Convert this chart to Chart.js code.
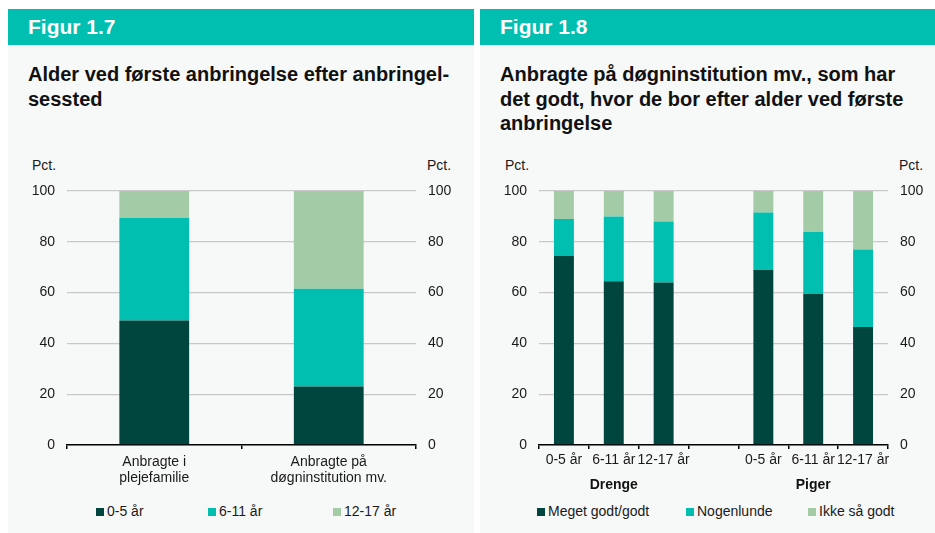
<!DOCTYPE html>
<html>
<head>
<meta charset="utf-8">
<script src="https://cdn.jsdelivr.net/npm/chart.js@4.4.0/dist/chart.umd.min.js"></script>
<style>
  body { margin: 0; background: #fff; width: 935px; height: 533px; position: relative; overflow: hidden;
         font-family: 'Liberation Sans', Arial, sans-serif; color: #1a1a1a; }
  .panel { position: absolute; top: 9px; bottom: 0; background: #f7f8f8; }
  .head { height: 36px; background: #00bfb1; color: #fff; font-weight: bold; font-size: 21px;
          line-height: 36px; padding-left: 20px; }
  .title { position: absolute; left: 20px; top: 53px; font-weight: bold; font-size: 20px;
           line-height: 24.5px; white-space: nowrap; color: #111; }
  .pct { position: absolute; font-size: 14px; line-height: 14px; top: 149px; }
  canvas { position: absolute; top: 141px; }
  .legend { position: absolute; top: 0; left: 0; }
  .item { position: absolute; top: 494px; font-size: 14px; line-height: 16px; white-space: nowrap; }
  .item i { display: inline-block; width: 8px; height: 8px; margin-right: 3px; vertical-align: 0px; }
</style>
</head>
<body>
<div class="panel" id="p1" style="left:8px; width:466px;">
  <div class="head">Figur 1.7</div>
  <div class="title">Alder ved første anbringelse efter anbringel-<br>sessted</div>
  <div class="pct" style="left:24px;">Pct.</div>
  <div class="pct" style="left:419px;">Pct.</div>
  <canvas id="chart1" width="466" height="345" style="left:0;"></canvas>
  <div class="legend" id="legend1"></div>
</div>
<div class="panel" id="p2" style="left:480px; width:455px;">
  <div class="head">Figur 1.8</div>
  <div class="title">Anbragte på døgninstitution mv., som har<br>det godt, hvor de bor efter alder ved første<br>anbringelse</div>
  <div class="pct" style="left:25px;">Pct.</div>
  <div class="pct" style="left:419px;">Pct.</div>
  <canvas id="chart2" width="455" height="345" style="left:0;"></canvas>
  <div class="legend" id="legend2"></div>
</div>

<script>
// Figur 1.7 data
const placeLabels = [['Anbragte i', 'plejefamilie'], ['Anbragte på', 'døgninstitution mv.']];
const ageNames = ['0-5 år', '6-11 år', '12-17 år'];
const age0to5 = [49, 23];
const age6to11 = [40.5, 38.5];
const age12to17 = [10.5, 38.5];

// Figur 1.8 data
const ageLabels = ['0-5 år', '6-11 år', '12-17 år', '', '0-5 år', '6-11 år', '12-17 år'];
const groupNames = ['Drenge', 'Piger'];
const groupIndexes = [[0, 1, 2], [4, 5, 6]];
const wellNames = ['Meget godt/godt', 'Nogenlunde', 'Ikke så godt'];
const meGodt = [74.5, 64.5, 64, null, 69, 59.5, 46.5];
const nogenlunde = [14.5, 25.5, 24, null, 22.5, 24.5, 30.5];
const ikkeGodt = [11, 10, 12, null, 8.5, 16, 23];

const yTicks = [0, 20, 40, 60, 80, 100];

const colors = ['#00463f', '#00bfb1', '#a3cca6'];
const FONT = "'Liberation Sans', Arial, sans-serif";

Chart.defaults.font.family = FONT;
Chart.defaults.font.size = 14;
Chart.defaults.color = '#1a1a1a';

function makeScales(leftW, rightW, xH, labelPad) {
    return {
        x: {
            stacked: true,
            offset: true,
            grid: { display: true, drawOnChartArea: false, drawTicks: true, tickLength: 4, color: '#000', lineWidth: 1.5, offset: true },
            border: { display: true, color: '#000', width: 1.5 },
            ticks: { padding: labelPad, maxRotation: 0, autoSkip: false, font: { size: 14, lineHeight: 16 / 14 } },
            afterFit: s => { s.height = xH; }
        },
        y: {
            stacked: true,
            min: 0, max: 100,
            afterBuildTicks: s => { s.ticks = yTicks.map(v => ({ value: v })); },
            grid: { color: '#c8c8c8', lineWidth: 1.3, drawTicks: false },
            border: { display: false },
            ticks: { padding: 12 },
            afterFit: s => { s.width = leftW; }
        },
        y2: {
            position: 'right',
            min: 0, max: 100,
            afterBuildTicks: s => { s.ticks = yTicks.map(v => ({ value: v })); },
            grid: { display: false, drawTicks: false },
            border: { display: false },
            ticks: { padding: 12 },
            afterFit: s => { s.width = rightW; }
        }
    };
}

function barSet(label, data, color) {
    return {
        label: label,
        data: data,
        backgroundColor: color,
        borderWidth: 0,
        barPercentage: 0.4,
        categoryPercentage: 1,
        yAxisID: 'y'
    };
}

const baseOpts = {
    responsive: false,
    animation: false,
    layout: { padding: { top: 41, left: 0, right: 0, bottom: 0 } },
    plugins: { legend: { display: false }, tooltip: { enabled: false } }
};

// Figur 1.7
new Chart(document.getElementById('chart1'), {
    type: 'bar',
    data: {
        labels: placeLabels,
        datasets: [
            barSet(ageNames[0], age0to5, colors[0]),
            barSet(ageNames[1], age6to11, colors[1]),
            barSet(ageNames[2], age12to17, colors[2])
        ]
    },
    options: Object.assign({}, baseOpts, { scales: makeScales(59, 58, 50, 5) })
});

// group labels under the age ticks
const groupLabelPlugin = {
    id: 'groupLabels',
    afterDraw(chart) {
        const ctx = chart.ctx;
        const x = chart.scales.x;
        ctx.save();
        ctx.font = 'bold 14px ' + FONT;
        ctx.fillStyle = '#111';
        ctx.textAlign = 'center';
        ctx.textBaseline = 'middle';
        groupNames.forEach((name, i) => {
            const idx = groupIndexes[i];
            const mid = idx.reduce((a, j) => a + x.getPixelForValue(j), 0) / idx.length;
            ctx.fillText(name, mid, chart.chartArea.bottom + 40);
        });
        ctx.restore();
    }
};

// Figur 1.8
new Chart(document.getElementById('chart2'), {
    type: 'bar',
    data: {
        labels: ageLabels,
        datasets: [
            barSet(wellNames[0], meGodt, colors[0]),
            barSet(wellNames[1], nogenlunde, colors[1]),
            barSet(wellNames[2], ikkeGodt, colors[2])
        ]
    },
    options: Object.assign({}, baseOpts, { scales: makeScales(59, 47, 50, 3) }),
    plugins: [groupLabelPlugin]
});

// legends
const legendLeft1 = [88, 200, 325];
const legendLeft2 = [57, 206, 328];
function buildLegend(id, names, lefts) {
    const el = document.getElementById(id);
    names.forEach((n, i) => {
        const d = document.createElement('div');
        d.className = 'item';
        d.style.left = lefts[i] + 'px';
        d.innerHTML = '<i style="background:' + colors[i] + '"></i>' + n;
        el.appendChild(d);
    });
}
buildLegend('legend1', ageNames, legendLeft1);
buildLegend('legend2', wellNames, legendLeft2);
</script>
</body>
</html>
